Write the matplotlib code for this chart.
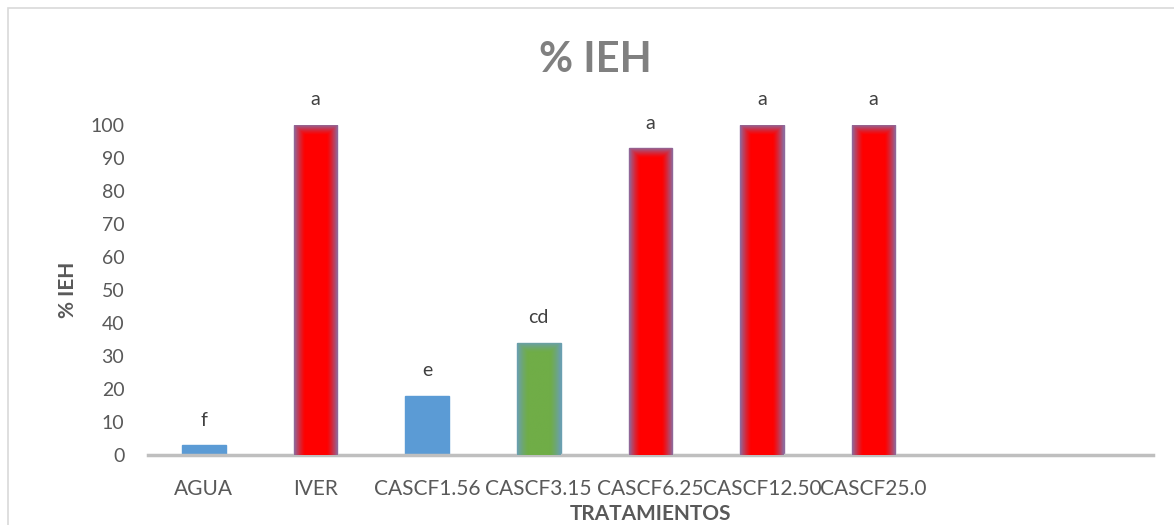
import numpy as np
import matplotlib
matplotlib.use("Agg")
import matplotlib.pyplot as plt
from matplotlib.patches import Rectangle

# ============================================
# Data
# ============================================

tratamientos = ["AGUA", "IVER", "CASCF1.56", "CASCF3.15", "CASCF6.25",
                "CASCF12.50", "CASCF25.0", "", ""]
ieh = [3, 100, 18, 34, 93, 100, 100, None, None]
letras = ["f", "a", "e", "cd", "a", "a", "a", "", ""]
colores = ["#5B9BD5", "#FF0000", "#5B9BD5", "#70AD47", "#FF0000",
           "#FF0000", "#FF0000", None, None]
bordes = ["#5B9BD5", "#8E6A9C", "#5B9BD5", "#6A9FB0", "#8E6A9C",
          "#8E6A9C", "#8E6A9C", None, None]

plt.rcParams["font.family"] = ["Lato", "DejaVu Sans"]

# ============================================
# Plot
# ============================================

fig = plt.figure(figsize=(11.74, 5.25), dpi=100)
ax = fig.add_axes([0.126, 0.133, 0.856, 0.629])

# chart frame
fig.patches.append(Rectangle((0.007, -0.02), 1.1, 1.005, transform=fig.transFigure,
                             fill=False, edgecolor="#D9D9D9", linewidth=1.2))

x = np.arange(len(tratamientos))
width = 0.39


def glow(ax, bx, h, w, face, edge):
    # soft bluish edge fading into the bar colour
    nx, ny = 60, 200
    u = np.linspace(-1, 1, nx)
    dx = np.clip((np.abs(u) - 0.5) / 0.5, 0, 1) ** 1.3
    img = np.zeros((ny, nx, 4))
    fc = np.array(matplotlib.colors.to_rgb(face))
    ec = np.array(matplotlib.colors.to_rgb(edge))
    vy = np.linspace(0, 1, ny)
    frac = 10 / max(h * 3.3, 10)
    dy = np.clip((vy - (1 - frac)) / frac, 0, 1) ** 1.3
    d = np.maximum(dx[None, :], dy[:, None])
    for k in range(3):
        img[:, :, k] = fc[k] * (1 - d) + ec[k] * d
    img[:, :, 3] = 1
    im = ax.imshow(img, extent=(bx - w / 2, bx + w / 2, 0, h), origin="lower",
                   aspect="auto", zorder=3, interpolation="bilinear")
    return im


for i, v in enumerate(ieh):
    if v is None:
        continue
    b = ax.bar(x[i], v, width=width, color=colores[i], edgecolor=bordes[i],
               linewidth=1, zorder=2)
    if colores[i] in ("#FF0000", "#70AD47"):
        im = glow(ax, x[i], v, width, colores[i], bordes[i])
        im.set_clip_path(b[0])
    ax.text(x[i], v + 5, letras[i], ha="center", va="bottom",
            fontsize=14, color="#404040", clip_on=False)

ax.set_xlim(-0.5, len(tratamientos) - 0.5)
ax.set_ylim(0, 100)
ax.set_yticks(range(0, 101, 10))
ax.set_xticks(x)
ax.set_xticklabels(tratamientos)

for s in ["top", "right", "left"]:
    ax.spines[s].set_visible(False)
ax.spines["bottom"].set_color("#BFBFBF")
ax.spines["bottom"].set_linewidth(2.5)

ax.tick_params(axis="both", length=0, colors="#595959")
ax.tick_params(axis="x", pad=17, labelsize=15)
ax.tick_params(axis="y", pad=17, labelsize=14)

ax.set_xlabel("TRATAMIENTOS", fontsize=15, fontweight="bold", color="#595959",
              labelpad=4)
ax.set_ylabel("% IEH", fontsize=15, fontweight="bold", color="#595959",
              labelpad=9)

fig.text(0.507, 0.885, "% IEH", ha="center", va="center", fontsize=30,
         fontweight="bold", color="#808080")

# Save graph
fig.savefig("out.png", dpi=100)
